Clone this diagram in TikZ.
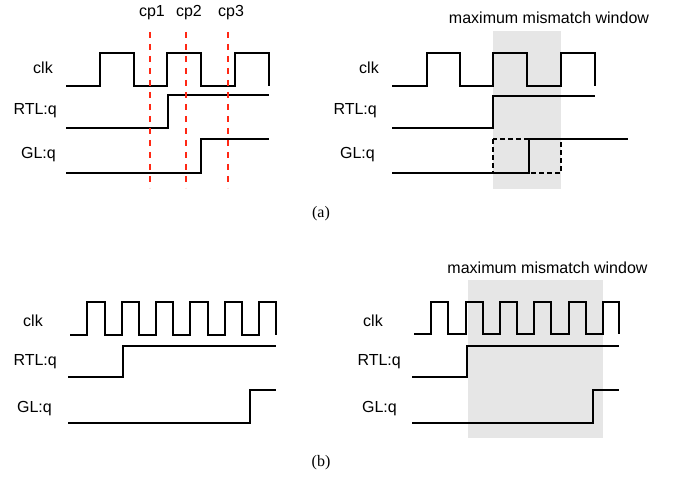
\documentclass[tikz,border=0pt]{standalone}
\usepackage{fontspec}
\setmainfont{Liberation Sans}
\newfontfamily\capfont{Liberation Serif}
\definecolor{cpred}{RGB}{255,40,20}
\definecolor{wingray}{RGB}{230,230,230}
\begin{document}
\begin{tikzpicture}[x=1pt,y=-1pt,
  wave/.style={line width=2.2pt},
  cpmark/.style={line width=2pt,draw=cpred,dash pattern=on 6pt off 6pt},
  boxmark/.style={line width=2pt,dash pattern=on 5pt off 3pt},
  sig/.style={anchor=base east,inner sep=0pt,font=\fontsize{16}{19}\selectfont},
  ttl/.style={anchor=base,inner sep=0pt,font=\fontsize{16}{19}\selectfont},
  figcap/.style={inner sep=0pt,font=\capfont\fontsize{16}{19}\selectfont}]
  \useasboundingbox (0,0) rectangle (675,478);
  % (a) left
  \draw[wave] (66,86) -- (100,86) -- (100,53) -- (134,53) -- (134,86) -- (167,86) -- (167,53)
    -- (201,53) -- (201,86) -- (235,86) -- (235,53) -- (269,53) -- (269,86);
  \draw[wave] (66,128) -- (168,128) -- (168,95) -- (269,95);
  \draw[wave] (66,173) -- (201,173) -- (201,139) -- (269,139);
  \node[sig] (clkA) at (53,74) {clk};
  \node[sig] (rtlA) at (57,115) {RTL:q};
  \node[sig] (glA) at (56,159) {GL:q};
  \node[ttl] (cp1) at (152,17) {cp1};
  \node[ttl] (cp2) at (189,17) {cp2};
  \node[ttl] (cp3) at (231,17) {cp3};
  \draw[cpmark] (150,32) -- (150,188);
  \draw[cpmark] (186,32) -- (186,188);
  \draw[cpmark] (228,32) -- (228,188);
  % (a) right
  \fill[wingray] (493,31) rectangle (561,189);
  \node[ttl] (winA) at (549,24) {maximum mismatch window};
  \draw[wave] (392,86) -- (427,86) -- (427,53) -- (460,53) -- (460,86) -- (493,86) -- (493,53)
    -- (527,53) -- (527,86) -- (561,86) -- (561,53) -- (595,53) -- (595,86);
  \draw[wave] (392,128) -- (493,128) -- (493,96) -- (595,96);
  \draw[boxmark] (493,139) rectangle (561,173);
  \draw[wave] (392,173) -- (529,173) -- (529,139) -- (628,139);
  \node[sig] (clkB) at (379,74) {clk};
  \node[sig] (rtlB) at (377,115) {RTL:q};
  \node[sig] (glB) at (375,159) {GL:q};
  \node[figcap] (capA) at (321,214) {(a)};
  % (b) left
  \draw[wave] (70,335) -- (87,335) -- (87,302) -- (105,302) -- (105,335)
    -- (122,335) -- (122,302) -- (139,302) -- (139,335)
    -- (156,335) -- (156,302) -- (173,302) -- (173,335)
    -- (190,335) -- (190,302) -- (208,302) -- (208,335)
    -- (225,335) -- (225,302) -- (242,302) -- (242,335)
    -- (259,335) -- (259,302) -- (276,302) -- (276,335);
  \draw[wave] (68,377) -- (123,377) -- (123,346) -- (276,346);
  \draw[wave] (68,423) -- (250,423) -- (250,390) -- (276,390);
  \node[sig] (clkC) at (43,327) {clk};
  \node[sig] (rtlC) at (57,366) {RTL:q};
  \node[sig] (glC) at (52,413) {GL:q};
  % (b) right
  \fill[wingray] (468,280) rectangle (603,438);
  \node[ttl] (winB) at (547.5,274) {maximum mismatch window};
  \draw[wave] (414,334) -- (431,334) -- (431,302) -- (448,302) -- (448,334)
    -- (466,334) -- (466,302) -- (483,302) -- (483,334)
    -- (500,334) -- (500,302) -- (517,302) -- (517,334)
    -- (534,334) -- (534,302) -- (551,302) -- (551,334)
    -- (569,334) -- (569,302) -- (586,302) -- (586,334)
    -- (603,334) -- (603,302) -- (619,302) -- (619,334);
  \draw[wave] (412,377) -- (467,377) -- (467,346) -- (619,346);
  \draw[wave] (412,423) -- (593,423) -- (593,390) -- (619,390);
  \node[sig] (clkD) at (383,327) {clk};
  \node[sig] (rtlD) at (401,366) {RTL:q};
  \node[sig] (glD) at (397,413) {GL:q};
  \node[figcap] (capB) at (321,463) {(b)};
\end{tikzpicture}
\end{document}
